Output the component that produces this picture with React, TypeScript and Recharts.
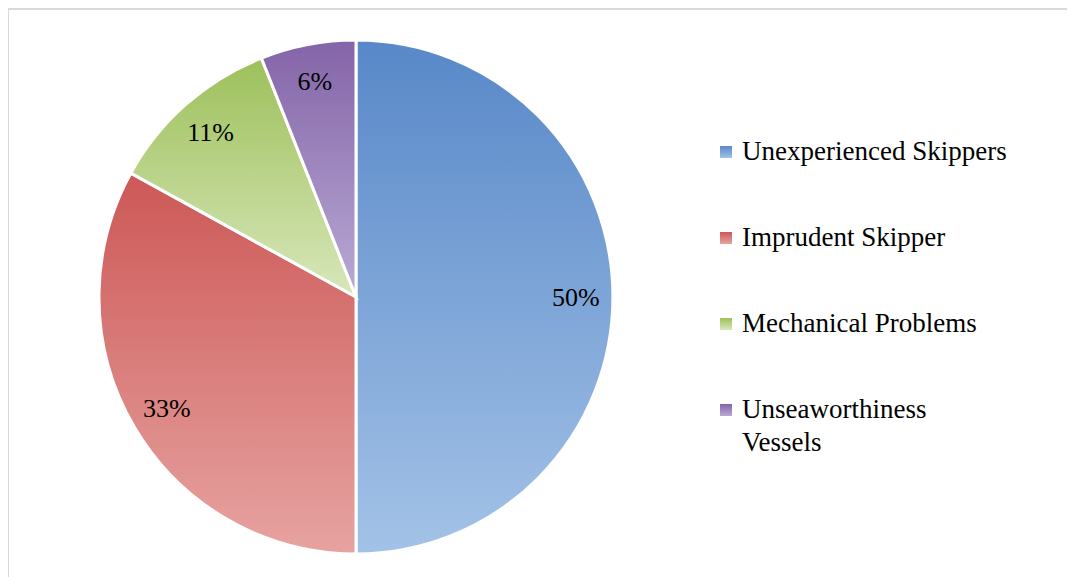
import { PieChart, Pie, Cell, Legend } from 'recharts'

const causes = [
  'Unexperienced Skippers',
  'Imprudent Skipper',
  'Mechanical Problems',
  'Unseaworthiness Vessels',
]
const shares = [50, 33, 11, 6]
const topColors = ['#5888c8', '#cc5856', '#9dc05a', '#8464a8']
const bottomColors = ['#a3c2e7', '#e7a3a1', '#d8e7bb', '#b9aad4']

const data = causes.map((name, i) => ({ name, value: shares[i] }))

const SERIF = "'Times New Roman', Times, 'Liberation Serif', 'DejaVu Serif', serif"
const RAD = Math.PI / 180

function renderLabel({ cx, cy, midAngle, outerRadius, value }: any) {
  const r = outerRadius * 0.855
  const x = cx + r * Math.cos(-midAngle * RAD)
  const y = cy + r * Math.sin(-midAngle * RAD)
  return (
    <text
      x={x}
      y={y}
      textAnchor="middle"
      dominantBaseline="central"
      fill="#000"
      fontFamily={SERIF}
      fontSize={26}
    >
      {value}%
    </text>
  )
}

function LegendBox() {
  return (
    <div style={{ fontFamily: SERIF, fontSize: 27, color: '#000' }}>
      {causes.map((c, i) => (
        <div key={c} style={{ display: 'flex', alignItems: 'flex-start', marginBottom: i < causes.length - 1 ? 53 : 0 }}>
          <span
            style={{
              width: 12,
              height: 12,
              marginTop: 11,
              marginRight: 10,
              flexShrink: 0,
              background: `linear-gradient(${topColors[i]}, ${bottomColors[i]})`,
            }}
          />
          <span style={{ lineHeight: '33px', maxWidth: 268 }}>{c}</span>
        </div>
      ))}
    </div>
  )
}

export default function App() {
  return (
    <div
      style={{
        position: 'relative',
        marginLeft: -1,
        width: 1100,
        height: 600,
        borderTop: '2px solid #d9d9d9',
        borderLeft: '2px solid #d9d9d9',
        boxSizing: 'border-box',
        fontFamily: SERIF,
      }}
    >
      <PieChart width={1090} height={590}>
        <defs>
          {causes.map((c, i) => (
            <linearGradient key={c} id={`grad${i}`} x1="0" y1="0" x2="0" y2="1">
              <stop offset="0%" stopColor={topColors[i]} />
              <stop offset="100%" stopColor={bottomColors[i]} />
            </linearGradient>
          ))}
        </defs>
        <Pie
          data={data}
          dataKey="value"
          nameKey="name"
          cx={342}
          cy={282}
          outerRadius={257}
          startAngle={90}
          endAngle={-270}
          stroke="#fff"
          strokeWidth={3}
          label={renderLabel}
          labelLine={false}
          isAnimationActive={false}
        >
          {data.map((d, i) => (
            <Cell key={d.name} fill={`url(#grad${i})`} />
          ))}
        </Pie>
        <Legend
          layout="vertical"
          align="right"
          verticalAlign="top"
          content={() => <LegendBox />}
          wrapperStyle={{ left: 711, top: 125, width: 360 }}
        />
      </PieChart>
    </div>
  )
}
